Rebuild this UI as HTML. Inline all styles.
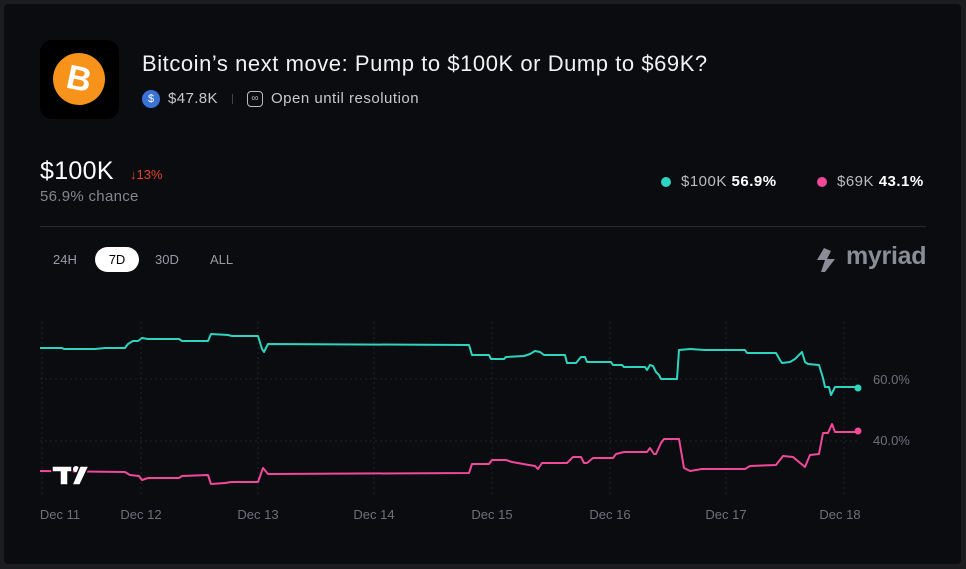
<!DOCTYPE html>
<html><head><meta charset="utf-8"><style>
*{margin:0;padding:0;box-sizing:border-box}
body{width:966px;height:569px;background:#1d1d1f;font-family:"Liberation Sans",sans-serif;overflow:hidden;position:relative}
.card{position:absolute;left:4px;top:4px;width:957px;height:560px;background:#0b0c10;border-radius:4px}
.a{position:absolute;white-space:nowrap}
</style></head><body>
<div class="card"></div>
<div class="a" style="left:40px;top:40px;width:79px;height:79px;background:#000;border-radius:12px"></div>
<div class="a" style="left:53px;top:53px;width:52px;height:52px;background:#f7931a;border-radius:50%;color:#fff;font:bold 34px 'Liberation Sans';text-align:center;line-height:52px;transform:rotate(12deg)">B</div>
<div class="a" style="left:142px;top:51px;font-size:22px;letter-spacing:0.55px;color:#f2f2f2">Bitcoin’s next move: Pump to $100K or Dump to $69K?</div>
<div class="a" style="left:142px;top:90px;width:18px;height:18px;border-radius:50%;background:#3b72d6;color:#fff;font-size:11px;text-align:center;line-height:18px">$</div>
<div class="a" style="left:168px;top:90px;font-size:15px;letter-spacing:0.4px;color:#c8c8cc">$47.8K</div>
<div class="a" style="left:232px;top:94px;width:1px;height:10px;background:#444"></div>
<div class="a" style="left:247px;top:91px;width:16px;height:16px;border:1.5px solid #bbb;border-radius:4px;color:#bbb;font-size:10px;text-align:center;line-height:13px">∞</div>
<div class="a" style="left:271px;top:90px;font-size:15px;letter-spacing:0.5px;color:#c8c8cc">Open until resolution</div>
<div class="a" style="left:40px;top:157px;font-size:25px;color:#fff;letter-spacing:0.3px">$100K</div>
<div class="a" style="left:130px;top:167px;font-size:13px;color:#e5482a">↓13%</div>
<div class="a" style="left:40px;top:188px;font-size:15px;letter-spacing:0.3px;color:#86868c">56.9% chance</div>
<div class="a" style="left:40px;top:226px;width:886px;height:1px;background:#2a2b30"></div>
<div class="a" style="left:53px;top:252px;font-size:13px;color:#9a9aa5">24H</div>
<div class="a" style="left:95px;top:247px;width:44px;height:25px;border-radius:13px;background:#fff;color:#000;font-size:13px;text-align:center;line-height:25px">7D</div>
<div class="a" style="left:155px;top:252px;font-size:13px;color:#9a9aa5">30D</div>
<div class="a" style="left:210px;top:252px;font-size:13px;color:#9a9aa5">ALL</div>
<div class="a" style="left:661px;top:177px;width:10px;height:10px;border-radius:50%;background:#2dd4bf"></div>
<div class="a" style="left:681px;top:173px;font-size:15px;letter-spacing:0.5px;color:#bbbbc0">$100K <b style="color:#fff">56.9%</b></div>
<div class="a" style="left:817px;top:177px;width:10px;height:10px;border-radius:50%;background:#f0489a"></div>
<div class="a" style="left:837px;top:173px;font-size:15px;letter-spacing:0.5px;color:#bbbbc0">$69K <b style="color:#fff">43.1%</b></div>
<svg class="a" style="left:815px;top:247px" width="26" height="26"><path d="M9,1 L2,13 H10 L6,25 L10,25 L20,12 H12 L16,4 Z" fill="#8a8d96"/></svg>
<div class="a" style="left:846px;top:242px;font-size:25px;color:#8a8d96;font-weight:bold;letter-spacing:-0.3px">myriad</div>
<svg class="a" style="left:0;top:0" width="966" height="569">
<g stroke="#22232a" stroke-dasharray="2,3" stroke-width="1">
<line x1="40" y1="379" x2="860" y2="379"/><line x1="40" y1="441" x2="860" y2="441"/>
<line x1="42" y1="322" x2="42" y2="497"/><line x1="141" y1="322" x2="141" y2="497"/><line x1="258" y1="322" x2="258" y2="497"/><line x1="374" y1="322" x2="374" y2="497"/><line x1="492" y1="322" x2="492" y2="497"/><line x1="610" y1="322" x2="610" y2="497"/><line x1="726" y1="322" x2="726" y2="497"/><line x1="844" y1="322" x2="844" y2="497"/>
</g>
<polyline fill="none" stroke="#2dd4bf" stroke-width="2" stroke-linejoin="round" points="40,348 62,348 64,349 95,349 105,348 125,348 128,344 133,341 138,341 142,338 148,339 179,339 182,341 208,341 211,334 228,335 232,336 258,336 262,349 264,352 268,344 469,345 472,355 489,355 491,359 504,359 506,357 524,356 530,354 535,351 540,352 544,355 565,355 567,363 576,363 581,357 585,357 587,362 611,362 613,365 622,365 624,367 645,367 647,370 650,365 653,366 656,372 659,375 661,379 677,379 679,350 690,349 705,350 745,350 747,353 776,353 780,360 782,363 790,362 795,359 802,352 805,362 808,364 819,365 823,378 825,387 829,387 831,395 835,387 857,387"/>
<polyline fill="none" stroke="#f0489a" stroke-width="2" stroke-linejoin="round" points="40,471 125,472 130,475 139,476 142,480 148,478 179,478 182,476 208,475 211,484 225,483 231,482 258,482 263,468 268,474 469,473 472,464 489,464 492,460 506,460 512,462 529,465 535,466 538,469 542,463 567,463 573,457 581,457 584,463 587,463 593,458 613,458 616,454 624,452 647,452 650,448 654,454 656,454 661,443 664,439 679,439 684,468 690,471 702,469 745,469 750,466 776,465 783,456 793,457 799,462 805,467 810,455 819,454 823,433 828,433 832,424 835,432 857,432"/>
<circle cx="858" cy="388" r="3.5" fill="#2dd4bf"/><circle cx="858" cy="431" r="3.5" fill="#f0489a"/>
<path d="M52,466 H72 V472 H68 V485 H60 V472 H52 Z" fill="#fff" stroke="#0b0c10" stroke-width="1.5"/>
<circle cx="76" cy="469" r="3" fill="#fff"/>
<path d="M80,466 H89 L80,485 H72 Z" fill="#fff" stroke="#0b0c10" stroke-width="1.5"/>
<g font-family="Liberation Sans" font-size="13" fill="#6f7079">
<text x="873" y="384">60.0%</text><text x="873" y="445">40.0%</text>
<g text-anchor="middle"><text x="60" y="519">Dec 11</text><text x="141" y="519">Dec 12</text><text x="258" y="519">Dec 13</text><text x="374" y="519">Dec 14</text><text x="492" y="519">Dec 15</text><text x="610" y="519">Dec 16</text><text x="726" y="519">Dec 17</text><text x="840" y="519">Dec 18</text></g>
</g>
</svg>
</body></html>
